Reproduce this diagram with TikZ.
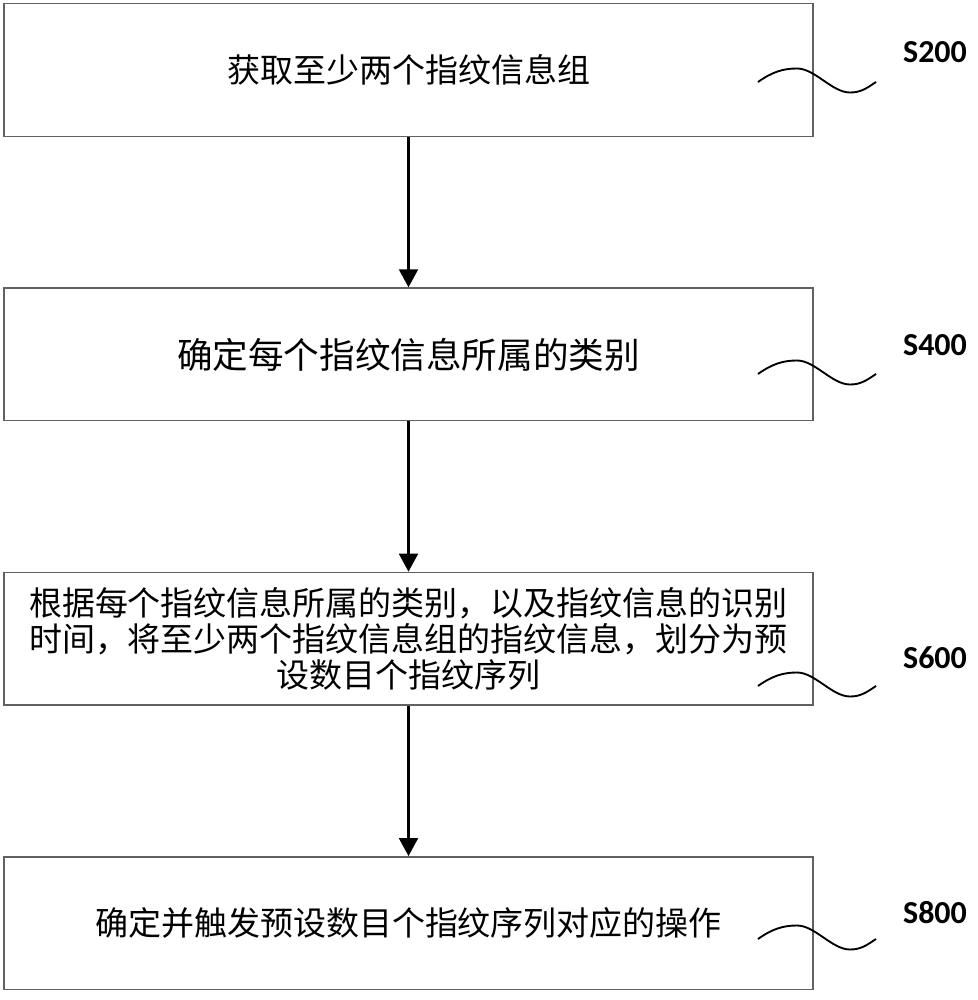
\documentclass[tikz,border=0pt]{standalone}
\usepackage{fontspec}
\setmainfont{Noto Sans CJK SC}
\newfontfamily\labelfont{Carlito}
\usetikzlibrary{positioning,chains,arrows.meta}

\begin{document}
\begin{tikzpicture}[%
    x=0.75pt, y=-0.75pt,        % one unit is one pixel of the reference, y going down
    start chain=going below,    % steps run top-to-bottom
    node distance=213.3pt,      % centre to centre, boxes are on grid
    every join/.style={norm},   % default connector between steps
    ]
% -------------------------------------------------
% Box and line styles
\tikzset{
base/.style={draw=black!62, line width=1.1pt, on grid, on chain, align=center,
  minimum width=606.75pt, minimum height=99.5pt, inner sep=0pt,
  font=\fontsize{24.75pt}{27pt}\selectfont},
proc/.style={base, rectangle},
% step numbers to the right of the boxes
steplabel/.style={font=\labelfont\bfseries\fontsize{24pt}{28pt}\selectfont, inner sep=0pt},
wave/.style={draw, line width=1.4pt},
% -------------------------------------------------
norm/.style={-{Triangle[width=14pt,length=13.5pt]}, draw, line width=2.2pt},
}
\useasboundingbox (0,0) rectangle (978,1000);
% -------------------------------------------------
% Steps
\node [proc] (acquire) at (408.5,70) {获取至少两个指纹信息组};
\node [proc, join, font=\fontsize{26.7pt}{30pt}\selectfont] (classify) {确定每个指纹信息所属的类别};
\node [proc, join] (divide) {根据每个指纹信息所属的类别，以及指纹信息的识别\\时间，将至少两个指纹信息组的指纹信息，划分为预\\设数目个指纹序列};
\node [proc, join] (trigger) {确定并触发预设数目个指纹序列对应的操作};

% Step numbers
\node [steplabel] (s200) at (935,52)  {S200};
\node [steplabel] (s400) at (935,345) {S400};
\node [steplabel] (s600) at (935,658) {S600};
\node [steplabel] (s800) at (935,913) {S800};

% Leader waves
\coordinate (w200) at (758,82);
\coordinate (w400) at (758,374);
\coordinate (w600) at (758,686);
\coordinate (w800) at (758,939);
\draw [wave] (w200) .. controls +(14,-10) and +(-14,0) .. ++(39,-13.5) .. controls +(18,0) and +(-18,0) .. ++(53,24) .. controls +(11,0) and +(-9,6) .. ++(26,-10.5);
\draw [wave] (w400) .. controls +(14,-10) and +(-14,0) .. ++(39,-13.5) .. controls +(18,0) and +(-18,0) .. ++(53,24) .. controls +(11,0) and +(-9,6) .. ++(26,-10.5);
\draw [wave] (w600) .. controls +(14,-10) and +(-14,0) .. ++(39,-13.5) .. controls +(18,0) and +(-18,0) .. ++(53,24) .. controls +(11,0) and +(-9,6) .. ++(26,-10.5);
\draw [wave] (w800) .. controls +(14,-10) and +(-14,0) .. ++(39,-13.5) .. controls +(18,0) and +(-18,0) .. ++(53,24) .. controls +(11,0) and +(-9,6) .. ++(26,-10.5);

\end{tikzpicture}
\end{document}
